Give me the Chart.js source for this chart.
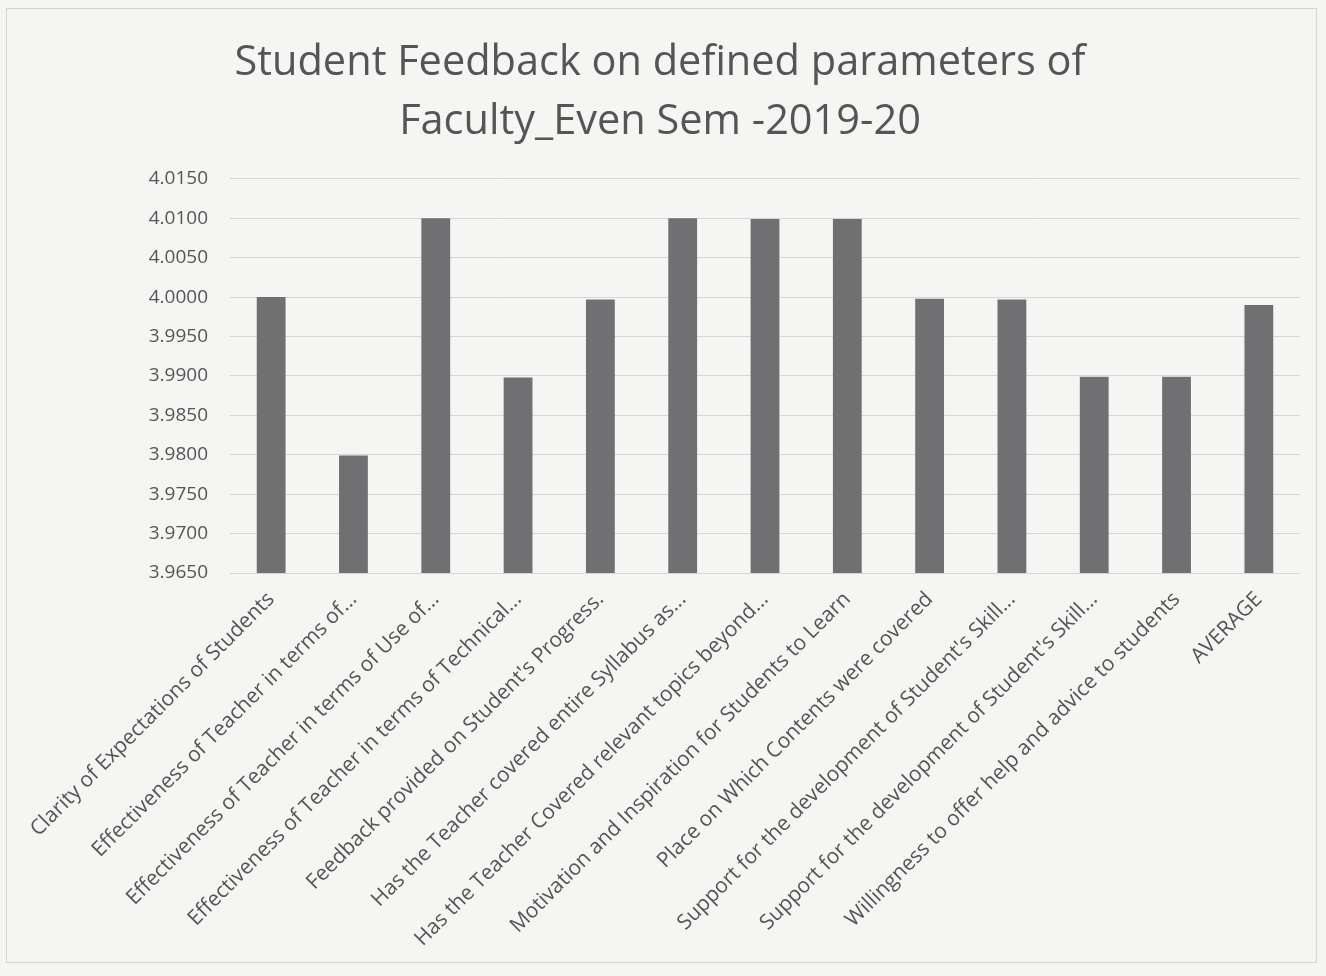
<!DOCTYPE html>
<html>
<head>
<meta charset="utf-8">
<title>Student Feedback - Even Sem 2019-20</title>
<script src="https://cdn.jsdelivr.net/npm/chart.js@4.4.0/dist/chart.umd.min.js"></script>
<style>
    body { margin: 0; background: #f5f5f3; }
    canvas { display: block; }
</style>
</head>
<body>
<canvas id="feedbackChart" width="1326" height="976"></canvas>
<script>
// Chart data
const parameters = [
    'Clarity of Expectations of Students',
    'Effectiveness of Teacher in terms of...',
    'Effectiveness of Teacher in terms of Use of...',
    'Effectiveness of Teacher in terms of Technical...',
    "Feedback provided on Student's Progress.",
    'Has the Teacher covered entire Syllabus as...',
    'Has the Teacher Covered relevant topics beyond...',
    'Motivation and Inspiration for Students to Learn',
    'Place on Which Contents were covered',
    "Support for the development of Student's Skill...",
    "Support for the development of Student's Skill...",
    'Willingness to offer help and advice to students',
    'AVERAGE'
];
const scores = [4.0000, 3.9799, 4.0100, 3.9898, 3.9997, 4.0100, 4.0099, 4.0099, 3.9998, 3.9997, 3.9899, 3.9899, 3.9990];
const yMin = 3.9650;
const yMax = 4.0150;
const yStep = 0.0050;

// Light frame around the chart, like the printed sheet
const framePlugin = {
    id: 'frame',
    beforeDraw(chart) {
        const c = chart.ctx;
        c.save();
        c.fillStyle = '#f5f5f3';
        c.fillRect(0, 0, chart.width, chart.height);
        c.strokeStyle = '#d4d4d2';
        c.lineWidth = 1;
        c.strokeRect(6.5, 8.5, 1310, 954);
        c.restore();
    }
};

const ctx = document.getElementById('feedbackChart').getContext('2d');
new Chart(ctx, {
    type: 'bar',
    data: {
        labels: parameters,
        datasets: [{
            label: 'Score',
            data: scores,
            backgroundColor: '#707072',
            barPercentage: 0.35,
            categoryPercentage: 1.0
        }]
    },
    options: {
        responsive: false,
        animation: false,
        layout: {
            padding: { left: 20, right: 26, top: 34, bottom: 23 }
        },
        plugins: {
            legend: { display: false },
            tooltip: { enabled: false },
            title: {
                display: true,
                text: ['Student Feedback on defined parameters of', 'Faculty_Even Sem -2019-20'],
                color: '#555555',
                font: { family: 'Open Sans', size: 41.5, weight: 'normal', lineHeight: 1.42 },
                padding: { top: 0, bottom: 27 }
            }
        },
        scales: {
            x: {
                grid: { display: false },
                border: { display: false },
                ticks: {
                    color: '#555555',
                    font: { family: 'Open Sans', size: 21 },
                    autoSkip: false,
                    maxRotation: 45,
                    minRotation: 45,
                    padding: 6
                },
                afterFit(scale) { scale.height = 380; }
            },
            y: {
                min: yMin,
                max: yMax,
                grid: { color: '#d6d6d6', drawTicks: false },
                border: { display: false },
                ticks: {
                    stepSize: yStep,
                    color: '#555555',
                    font: { family: 'Open Sans', size: 19 },
                    padding: 22,
                    callback: function(v) { return v.toFixed(4); }
                },
                afterFit(scale) { scale.width = 210; }
            }
        }
    },
    plugins: [framePlugin]
});
</script>
</body>
</html>
